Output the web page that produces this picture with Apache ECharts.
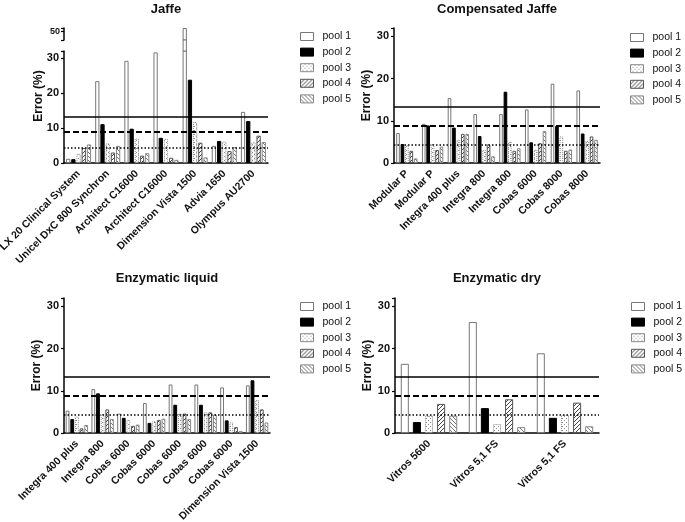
<!DOCTYPE html>
<html>
<head>
<meta charset="utf-8">
<script src="https://cdn.jsdelivr.net/npm/echarts@6/dist/echarts.min.js"></script>
<style>
html,body{margin:0;padding:0;background:#fff}
#main{width:685px;height:522px}
</style>
</head>
<body>
<div id="main"></div>
<script>
var poolNames = ['pool 1', 'pool 2', 'pool 3', 'pool 4', 'pool 5'];
var limits = [13.3, 8.9, 4.4];   // solid, dashed, dotted

var jaffeCats = ['LX 20 Clinical System', 'Unicel DxC 800 Synchron', 'Architect C16000', 'Architect C16000', 'Dimension Vista 1500', 'Advia 1650', 'Olympus AU2700'];
var jaffeP1 = [1.2, 23.4, 29.2, 31.6, 51, 4.9, 14.6];
var jaffeP2 = [1.1, 11.1, 9.8, 7.2, 23.8, 6.3, 12.0];
var jaffeP3 = [2.6, 5.6, 7.0, 6.9, 11.7, 6.1, 5.9];
var jaffeP4 = [4.3, 3.0, 2.1, 1.5, 5.8, 3.4, 7.8];
var jaffeP5 = [5.3, 4.9, 2.8, 0.9, 1.6, 4.5, 6.0];

var compCats = ['Modular P', 'Modular P', 'Integra 400 plus', 'Integra 800', 'Integra 800', 'Cobas 6000', 'Cobas 8000', 'Cobas 8000'];
var compP1 = [7.1, 9.3, 15.4, 11.6, 11.6, 12.7, 18.8, 17.2];
var compP2 = [4.5, 8.9, 8.4, 6.4, 16.9, 4.9, 8.8, 7.0];
var compP3 = [4.3, 4.5, 5.5, 3.1, 5.0, 3.1, 6.3, 5.2];
var compP4 = [2.9, 3.1, 6.9, 4.4, 2.9, 4.7, 2.9, 6.3];
var compP5 = [1.1, 3.9, 6.9, 1.6, 3.5, 7.6, 3.2, 5.5];

var liqCats = ['Integra 400 plus', 'Integra 800', 'Cobas 6000', 'Cobas 6000', 'Cobas 6000', 'Cobas 6000', 'Cobas 6000', 'Dimension Vista 1500'];
var liqP1 = [5.3, 10.4, 4.6, 7.1, 11.5, 11.5, 10.8, 11.3];
var liqP2 = [3.3, 9.4, 3.6, 2.4, 6.7, 6.7, 3.0, 12.5];
var liqP3 = [3.9, 4.5, 3.1, 2.8, 4.6, 4.9, 2.5, 7.8];
var liqP4 = [1.1, 5.6, 1.7, 3.1, 4.6, 4.9, 1.4, 5.6];
var liqP5 = [1.9, 3.3, 2.0, 3.4, 3.3, 4.4, 0.5, 2.5];

var dryCats = ['Vitros 5600', 'Vitros 5,1 FS', 'Vitros 5,1 FS'];
var dryP1 = [16.4, 26.3, 18.9];
var dryP2 = [2.6, 5.9, 3.6];
var dryP3 = [4.1, 2.1, 4.3];
var dryP4 = [6.9, 8.0, 7.2];
var dryP5 = [4.1, 1.4, 1.6];

var FONT = 'Liberation Sans, Arial, sans-serif';
var INK = '#111';

function pattern(kind) {
  var c = document.createElement('canvas');
  c.width = 4; c.height = 4;
  var g = c.getContext('2d');
  g.fillStyle = '#fff';
  g.fillRect(0, 0, 4, 4);
  if (kind == 'dots') {
    g.fillStyle = '#8a8a8a';
    g.fillRect(0, 0, 1, 1);
    g.fillRect(2, 2, 1, 1);
  } else {
    g.strokeStyle = kind == 'fwd' ? '#444' : '#777';
    g.lineWidth = 1;
    g.beginPath();
    if (kind == 'fwd') {
      g.moveTo(0, 4); g.lineTo(4, 0);
      g.moveTo(-1, 1); g.lineTo(1, -1);
      g.moveTo(3, 5); g.lineTo(5, 3);
    } else {
      g.moveTo(0, 0); g.lineTo(4, 4);
      g.moveTo(-1, 3); g.lineTo(1, 5);
      g.moveTo(3, -1); g.lineTo(5, 1);
    }
    g.stroke();
  }
  return {image: c, repeat: 'repeat'};
}

var styles = [
  {color: '#fff', borderColor: '#777', borderWidth: 1},
  {color: '#000', borderColor: '#000', borderWidth: 1},
  {color: pattern('dots'), borderColor: '#888', borderWidth: 1, borderType: 'dotted'},
  {color: pattern('fwd'), borderColor: '#555', borderWidth: 1},
  {color: pattern('back'), borderColor: '#888', borderWidth: 1}
];

var refLines = {
  silent: true,
  symbol: 'none',
  label: {show: false},
  data: [
    {yAxis: limits[0], lineStyle: {color: '#000', type: 'solid', width: 1.5}},
    {yAxis: limits[1], lineStyle: {color: '#000', type: [6, 3], width: 2}},
    {yAxis: limits[2], lineStyle: {color: '#000', type: [1.5, 2], width: 1.5}}
  ]
};

var series = [];
function addPanel(pools, idx, catGap, gap, marks) {
  pools.forEach(function (d, i) {
    var s = {
      name: poolNames[i], type: 'bar', xAxisIndex: idx, yAxisIndex: idx,
      data: d, itemStyle: styles[i], barGap: gap, barCategoryGap: catGap
    };
    if (marks && i == 0) s.markLine = refLines;
    series.push(s);
  });
}

var jaffe = [jaffeP1, jaffeP2, jaffeP3, jaffeP4, jaffeP5];
addPanel(jaffe, 0, '14%', '22%', true);
addPanel(jaffe, 1, '14%', '22%', false);
addPanel(jaffe, 2, '14%', '22%', false);
addPanel([compP1, compP2, compP3, compP4, compP5], 3, '17%', '22%', true);
addPanel([liqP1, liqP2, liqP3, liqP4, liqP5], 4, '13%', '22%', true);
addPanel([dryP1, dryP2, dryP3, dryP4, dryP5], 5, '17%', '50%', true);

function catAxis(gi, cats) {
  return {
    type: 'category', gridIndex: gi, data: cats,
    axisLine: {lineStyle: {color: '#000', width: 1.5}},
    axisTick: {alignWithLabel: true, length: 4, lineStyle: {color: '#000', width: 1.2}},
    axisLabel: {interval: 0, rotate: 45, margin: 9, fontSize: 10.5, fontWeight: 'bold', color: INK, fontFamily: FONT}
  };
}
function hiddenCat(gi, cats) {
  return {type: 'category', gridIndex: gi, data: cats, show: false};
}
function valAxis(gi, name) {
  return {
    type: 'value', gridIndex: gi, min: 0, max: 32, interval: 10,
    name: name, nameLocation: 'middle', nameGap: 20,
    nameTextStyle: {fontSize: 12, fontWeight: 'bold', color: INK, fontFamily: FONT},
    axisLine: {show: true, lineStyle: {color: '#000', width: 1.5}},
    axisTick: {show: true, length: 3, lineStyle: {color: '#000', width: 1.2}},
    splitLine: {show: false},
    axisLabel: {
      margin: 5, fontSize: 11, fontWeight: 'bold', color: INK, fontFamily: FONT,
      formatter: function (v) { return v % 10 == 0 ? String(v) : ''; }
    }
  };
}

function legendAt(left, top) {
  return {
    left: left, top: top, padding: 0, orient: 'vertical', data: poolNames, icon: 'rect',
    itemWidth: 13, itemHeight: 8, itemGap: 2.6, selectedMode: false,
    itemStyle: {borderWidth: 1},
    textStyle: {fontSize: 10.5, color: INK, fontFamily: FONT, lineHeight: 13, padding: [0, 0, 0, 4]}
  };
}

function titleAt(text, x, y) {
  return {text: text, left: x, top: y, textAlign: 'center', padding: 0,
    textStyle: {fontSize: 13, fontWeight: 'bold', color: INK, fontFamily: FONT}};
}

var g = {outerBoundsMode: 'none', containLabel: false};
function grid(l, t, w, h) {
  return Object.assign({left: l, top: t, width: w, height: h}, g);
}

var option = {
  animation: false,
  backgroundColor: '#fff',
  textStyle: {fontFamily: FONT},
  title: [
    titleAt('Jaffe', 166, 3),
    titleAt('Compensated Jaffe', 497, 3),
    titleAt('Enzymatic liquid', 167, 272),
    titleAt('Enzymatic dry', 497, 272)
  ],
  legend: [legendAt(300, 30), legendAt(630, 31), legendAt(300, 300), legendAt(631, 300)],
  grid: [
    grid(64, 51, 204, 112),   // Jaffe lower segment
    grid(64, 28, 204, 12),    // Jaffe upper segment
    grid(64, 40, 204, 11),    // Jaffe break
    grid(394, 28, 206, 135),
    grid(64, 298, 206, 135),
    grid(395, 298, 204, 135)
  ],
  xAxis: [
    catAxis(0, jaffeCats),
    hiddenCat(1, jaffeCats),
    hiddenCat(2, jaffeCats),
    catAxis(3, compCats),
    catAxis(4, liqCats),
    catAxis(5, dryCats)
  ],
  yAxis: [
    valAxis(0, ''),
    {
      type: 'value', gridIndex: 1, min: 47.5, max: 51, interval: 2.5,
      axisLine: {show: true, lineStyle: {color: '#000', width: 1.5}},
      axisTick: {show: true, length: 3, lineStyle: {color: '#000', width: 1.2}},
      splitLine: {show: false},
      axisLabel: {
        margin: 4, fontSize: 9, fontWeight: 'bold', color: INK, fontFamily: FONT,
        formatter: function (v) { return v == 50 ? '50' : ''; }
      }
    },
    {type: 'value', gridIndex: 2, min: 40, max: 45, show: false, splitLine: {show: false}},
    valAxis(3, 'Error (%)'),
    valAxis(4, 'Error (%)'),
    valAxis(5, 'Error (%)')
  ],
  graphic: [{
    type: 'text', x: 39, y: 96, rotation: Math.PI / 2,
    style: {text: 'Error (%)', font: 'bold 12px ' + FONT, fill: INK, align: 'center', verticalAlign: 'middle'}
  }],
  series: series
};

var chart = echarts.init(document.getElementById('main'));
chart.setOption(option);
</script>
</body>
</html>
